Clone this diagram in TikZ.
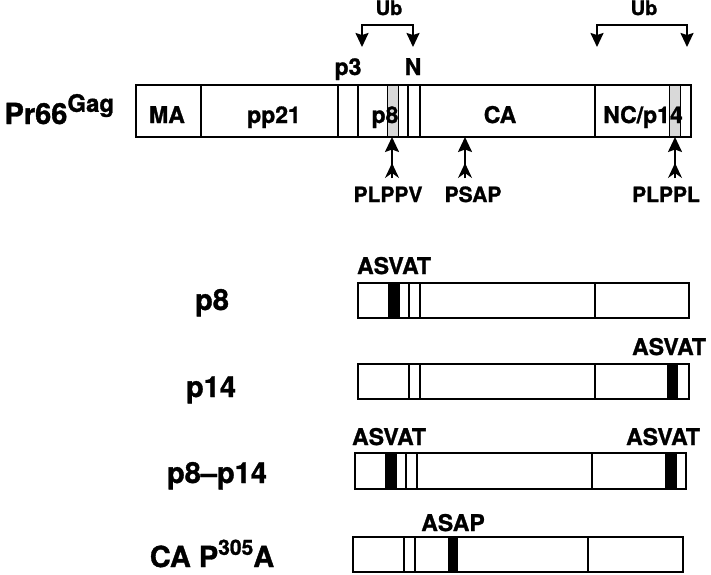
\documentclass[tikz,border=0pt]{standalone}
\usepackage{fontspec}
\setmainfont{TeX Gyre Heros}[BoldFeatures={FakeBold=1.2}]
\usetikzlibrary{arrows.meta}
\begin{document}
\begin{tikzpicture}[
        x=1pt, y=-1pt,
        % common styles
        bar/.style={draw, line width=1.8pt}, % outline of a Gag bar
        divider/.style={line width=2.6pt}, % domain border
        late/.style={draw, line width=1pt, fill=gray!30}, % L domain (grey)
        mutant/.style={fill=black}, % mutated L domain (black)
        domain text/.style={font=\fontsize{23}{23}\selectfont\bfseries, anchor=base},
        name text/.style={font=\fontsize{29}{29}\selectfont\bfseries, anchor=base},
        motif text/.style={font=\fontsize{21}{21}\selectfont\bfseries, anchor=base},
        ub text/.style={font=\fontsize{20}{20}\selectfont\bfseries, anchor=base},
        ub arrow/.style={line width=1.8pt, -{Stealth[length=14pt, width=13pt, inset=2pt]}},
        motif arrow/.style={line width=1.8pt, -{Stealth[length=15pt, width=14pt, inset=2.5pt]}},
        chevron/.style={line width=1.8pt, -{Stealth[length=15pt, width=14pt, inset=5pt]}}
    ]
    \useasboundingbox (0,0) rectangle (711,574);

    % --- Pr66Gag ---
    \begin{scope}
        % 1. grey L domains, then the bar
        \draw[late] (387,85) rectangle (398,137);
        \draw[late] (669,85) rectangle (680,137);
        \draw[bar] (136,85) rectangle (691,137);
        \foreach \x in {201,338,358,408,420,595}
            \draw[divider] (\x,85) -- (\x,137);

        % 2. domain names
        \node[name text, anchor=base west] (pr) at (1,124) {Pr66\raisebox{0.42em}{\fontsize{24}{24}\selectfont Gag}};
        \node[domain text] (ma) at (167,123) {MA};
        \node[domain text] (pp21) at (274,123) {pp21};
        \node[domain text] (p8) at (385,123) {p8};
        \node[domain text] (ca) at (500,123) {CA};
        \node[domain text] (nc) at (643,123) {NC/p14};
        \node[domain text] (p3) at (348,75) {p3};
        \node[domain text] (n) at (413,75) {N};

        % 3. Ub sites
        \node[ub text] (ubA) at (389,15) {Ub};
        \coordinate (ubAk) at (389,25);
        \coordinate (ubAl) at (362,47);
        \coordinate (ubAr) at (413,47);
        \draw[ub arrow] (ubAk) -| (ubAl);
        \draw[ub arrow] (ubAk) -| (ubAr);

        \node[ub text] (ubB) at (644,15) {Ub};
        \coordinate (ubBk) at (644,25);
        \coordinate (ubBl) at (597,47);
        \coordinate (ubBr) at (687,47);
        \draw[ub arrow] (ubBk) -| (ubBl);
        \draw[ub arrow] (ubBk) -| (ubBr);

        % 4. L domain motifs (arrow with a chevron tail)
        \node[motif text] (plppv) at (388,202) {PLPPV};
        \node[motif text] (psap) at (473,202) {PSAP};
        \node[motif text] (plppl) at (666,202) {PLPPL};
        \coordinate (plppvB) at (392,178); \coordinate (plppvT) at (392,137);
        \coordinate (psapB) at (465,178);  \coordinate (psapT) at (465,137);
        \coordinate (plpplB) at (675,178); \coordinate (plpplT) at (675,137);
        \foreach \m in {plppv,psap,plppl} {
            \draw[motif arrow] (\m B) -- (\m T);
            \draw[chevron] (\m B) -- ++(0,-15);
        }
    \end{scope}

    % --- p8 ---
    \begin{scope}
        \fill[mutant] (388,283) rectangle (400,318);
        \draw[bar] (358,283) rectangle (689,318);
        \foreach \x in {409,420,595}
            \draw[divider] (\x,283) -- (\x,318);
        \node[name text] (mp8) at (212,310) {p8};
        \node[domain text] (asvatA) at (394,274) {ASVAT};
    \end{scope}

    % --- p14 ---
    \begin{scope}
        \fill[mutant] (667,364) rectangle (678,399);
        \draw[bar] (358,364) rectangle (689,399);
        \foreach \x in {409,420,595}
            \draw[divider] (\x,364) -- (\x,399);
        \node[name text] (mp14) at (211,397) {p14};
        \node[domain text] (asvatB) at (669,355) {ASVAT};
    \end{scope}

    % --- p8-p14 ---
    \begin{scope}
        \fill[mutant] (385,453) rectangle (397,489);
        \fill[mutant] (665,453) rectangle (677,489);
        \draw[bar] (355,453) rectangle (686,489);
        \foreach \x in {406,417,592}
            \draw[divider] (\x,453) -- (\x,489);
        \node[name text] (mboth) at (217,483) {p8--p14};
        \node[domain text] (asvatC) at (389,445) {ASVAT};
        \node[domain text] (asvatD) at (663,445) {ASVAT};
    \end{scope}

    % --- CA P305A ---
    \begin{scope}
        \fill[mutant] (448,537) rectangle (458,572);
        \draw[bar] (353,537) rectangle (683,572);
        \foreach \x in {404,415,588}
            \draw[divider] (\x,537) -- (\x,572);
        \node[name text] (mca) at (212,567) {CA P\raisebox{0.42em}{\fontsize{21}{21}\selectfont 305}A};
        \node[domain text] (asap) at (453,531) {ASAP};
    \end{scope}

\end{tikzpicture}
\end{document}
